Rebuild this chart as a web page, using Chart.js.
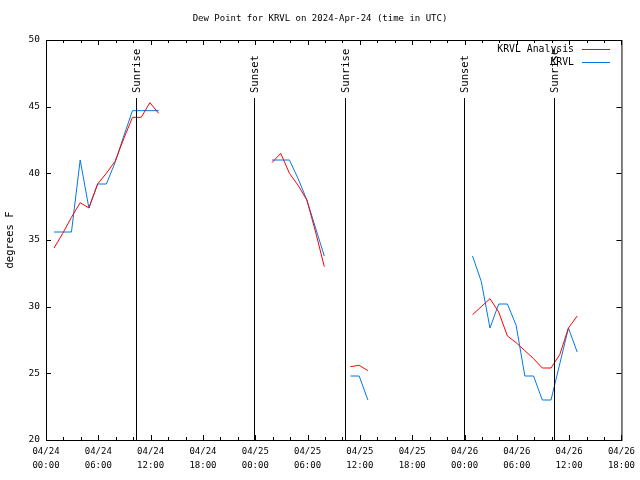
<!DOCTYPE html>
<html>
<head>
<meta charset="utf-8">
<script src="https://cdn.jsdelivr.net/npm/chart.js@4.4.1/dist/chart.umd.min.js"></script>
<style>
  html, body { margin: 0; background: #fff; }
  #wrap { width: 640px; height: 480px; }
</style>
</head>
<body>
<div id="wrap"><canvas id="dew" width="640" height="480"></canvas></div>
<script>
// hours after 04/24 00:00 UTC (obs at :55), null = gap between data runs
const hours = [
  0.92, 1.92, 2.92, 3.92, 4.92, 5.92, 6.92, 7.92, 8.92, 9.92, 10.92, 11.92, 12.92, null,
  25.92, 26.92, 27.92, 28.92, 29.92, 30.92, 31.92, null,
  34.92, 35.92, 36.92, null,
  48.92, 49.92, 50.92, 51.92, 52.92, 53.92, 54.92, 55.92, 56.92, 57.92, 58.92, 59.92, 60.92
];
const analysisDew = [
  34.4, 35.5, 36.7, 37.8, 37.4, 39.2, 40.0, 40.9, 42.6, 44.2, 44.2, 45.3, 44.5, null,
  40.8, 41.5, 40.0, 39.1, 38.0, 35.6, 33.0, null,
  25.5, 25.6, 25.2, null,
  29.4, 30.0, 30.6, 29.6, 27.8, 27.3, 26.7, 26.1, 25.4, 25.4, 26.4, 28.4, 29.3
];
const stationDew = [
  35.6, 35.6, 35.6, 41.0, 37.4, 39.2, 39.2, 40.8, 42.8, 44.7, 44.7, 44.7, 44.7, null,
  41.0, 41.0, 41.0, 39.6, 38.0, 35.9, 33.8, null,
  24.8, 24.8, 23.0, null,
  33.8, 31.9, 28.4, 30.2, 30.2, 28.6, 24.8, 24.8, 23.0, 23.0, 25.7, 28.4, 26.6
];
const seriesNames = ['KRVL Analysis', 'KRVL'];
const seriesColors = ['#ff0000', 'rgb(0,120,230)'];

const xTickLabels = [
  ['04/24', '00:00'], ['04/24', '06:00'], ['04/24', '12:00'], ['04/24', '18:00'],
  ['04/25', '00:00'], ['04/25', '06:00'], ['04/25', '12:00'], ['04/25', '18:00'],
  ['04/26', '00:00'], ['04/26', '06:00'], ['04/26', '12:00'], ['04/26', '18:00']
];
const eventHours = [10.35, 23.9, 34.33, 47.95, 58.3];
const eventLabels = ['Sunrise', 'Sunset', 'Sunrise', 'Sunset', 'Sunrise'];

const MONO = '"DejaVu Sans Mono", "Liberation Mono", monospace';

function toPoints(vals) {
  return hours.map((h, i) => ({ x: h === null ? hours[i - 1] : h, y: h === null ? null : vals[i] }));
}

// gnuplot-like frame, inward ticks, title, legend and sun event markers
const gnuFrame = {
  id: 'gnuFrame',
  afterDraw(chart) {
    const { ctx, chartArea: a, scales: { x, y } } = chart;
    ctx.save();
    ctx.strokeStyle = '#000';
    ctx.lineWidth = 1;
    ctx.strokeRect(a.left + 0.5, a.top + 0.5, a.right - a.left, a.bottom - a.top);

    ctx.beginPath();
    for (let h = x.min; h <= x.max; h += 2) {
      const px = Math.round(x.getPixelForValue(h)) + 0.5;
      const len = h % 6 === 0 ? 5 : 3;
      ctx.moveTo(px, a.bottom); ctx.lineTo(px, a.bottom - len);
      ctx.moveTo(px, a.top); ctx.lineTo(px, a.top + len);
    }
    y.ticks.forEach(t => {
      const py = Math.round(y.getPixelForValue(t.value)) + 0.5;
      ctx.moveTo(a.left, py); ctx.lineTo(a.left + 5, py);
      ctx.moveTo(a.right, py); ctx.lineTo(a.right - 5, py);
    });
    ctx.stroke();

    // sunrise / sunset
    ctx.fillStyle = '#000';
    ctx.font = '10.5px ' + MONO;
    eventHours.forEach((h, i) => {
      const px = Math.round(x.getPixelForValue(h)) + 0.5;
      ctx.beginPath();
      ctx.moveTo(px, 98); ctx.lineTo(px, a.bottom);
      ctx.stroke();
      ctx.save();
      ctx.translate(px + 1, 93);
      ctx.rotate(-Math.PI / 2);
      ctx.textAlign = 'left';
      ctx.textBaseline = 'middle';
      ctx.fillText(eventLabels[i], 0, 0);
      ctx.restore();
    });

    // title
    ctx.font = '9px ' + MONO;
    ctx.textAlign = 'center';
    ctx.textBaseline = 'middle';
    ctx.fillText('Dew Point for KRVL on 2024-Apr-24 (time in UTC)', 320, 19);

    // legend
    ctx.font = '9.8px ' + MONO;
    ctx.textAlign = 'right';
    seriesNames.forEach((n, i) => {
      const ly = 49 + i * 13;
      ctx.fillStyle = '#000';
      ctx.fillText(n, 574, ly);
      ctx.strokeStyle = seriesColors[i];
      ctx.beginPath();
      ctx.moveTo(582, ly + 0.5); ctx.lineTo(610, ly + 0.5);
      ctx.stroke();
    });
    ctx.restore();
  }
};

new Chart(document.getElementById('dew').getContext('2d'), {
  type: 'line',
  data: {
    datasets: seriesNames.map((n, i) => ({
      label: n,
      data: toPoints(i === 0 ? analysisDew : stationDew),
      borderColor: seriesColors[i],
      backgroundColor: seriesColors[i],
      borderWidth: 1,
      pointRadius: 0,
      tension: 0,
      spanGaps: false,
      fill: false,
    })),
  },
  options: {
    responsive: false,
    animation: false,
    devicePixelRatio: 1,
    layout: { padding: { top: 40, right: 18, left: 0, bottom: 0 } },
    plugins: { legend: { display: false }, tooltip: { enabled: false } },
    scales: {
      x: {
        type: 'linear', min: 0, max: 66,
        grid: { display: false, drawTicks: false },
        border: { display: false },
        ticks: {
          stepSize: 6, autoSkip: false, maxRotation: 0, padding: 5,
          color: '#000', font: { family: MONO, size: 9, lineHeight: 1.55 },
          callback: (v, i) => xTickLabels[i],
        },
        afterFit: s => { s.height = 40; },
      },
      y: {
        min: 20, max: 50,
        grid: { display: false, drawTicks: false },
        border: { display: false },
        ticks: { stepSize: 5, padding: 6, color: '#000', font: { family: MONO, size: 9.5 } },
        title: {
          display: true, text: 'degrees F', color: '#000',
          font: { family: MONO, size: 10.5 }, padding: { top: 4, bottom: 0 },
        },
        afterFit: s => { s.width = 46; },
      },
    },
  },
  plugins: [gnuFrame],
});
</script>
</body>
</html>
